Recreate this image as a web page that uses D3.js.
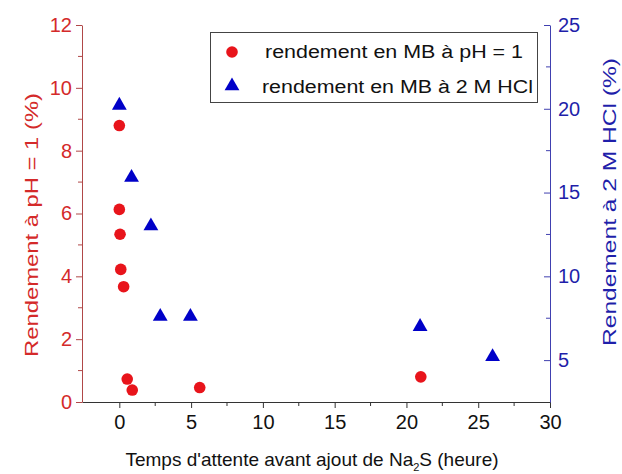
<!DOCTYPE html>
<html>
<head>
<meta charset="utf-8">
<script src="https://cdn.jsdelivr.net/npm/d3@7"></script>
<style>
  body { margin: 0; background: #fff; }
  svg text { font-family: "Liberation Sans", Arial, sans-serif; }
</style>
</head>
<body>
<svg id="chart" width="622" height="474"></svg>
<script>
// data
const phTime = [0, 0, 0.05, 0.1, 0.3, 0.55, 0.9, 5.6, 21];
const phYield = [8.8, 6.13, 5.34, 4.22, 3.67, 0.73, 0.38, 0.46, 0.8];
const hclTime = [0, 0.85, 2.2, 2.85, 4.95, 20.95, 26];
const hclYield = [20.2, 15.9, 13.0, 7.6, 7.6, 7.0, 5.2];

const xTicks = [0, 5, 10, 15, 20, 25, 30];
const leftTicks = [0, 2, 4, 6, 8, 10, 12];
const rightTicks = [5, 10, 15, 20, 25];

const legendLabels = ['rendement en MB à pH = 1', 'rendement en MB à 2 M HCl'];

/**
 * plot box
 */
const margin = {left: 82, right: 550, top: 25, bottom: 402};
const RED = '#e8141b', BLUE = '#0000c8';
const RED_TXT = '#d42a2a', BLUE_TXT = '#1f1faa';

const svg = d3.select('#chart');

const xScale = d3.scaleLinear().domain([-2.6, 30]).range([margin.left, margin.right]);
const yLeft = d3.scaleLinear().domain([0, 12]).range([margin.bottom, margin.top]);
const yRight = d3.scaleLinear().domain([2.5, 25]).range([margin.bottom, margin.top]);

// bottom axis
let xAxis = d3.axisBottom(xScale).tickValues(xTicks).tickSize(6).tickPadding(7).tickSizeOuter(0);
let gx = svg.append('g')
    .attr('transform', 'translate(0,' + margin.bottom + ')')
    .call(xAxis);
gx.selectAll('text').attr('font-size', 20).attr('fill', '#111').attr('font-family', null);
gx.selectAll('line').attr('stroke', '#333');
gx.select('.domain').attr('stroke', '#333');
// minor ticks
svg.append('g').selectAll('line')
    .data(d3.range(2.5, 30, 5))
    .enter().append('line')
    .attr('x1', d => xScale(d)).attr('x2', d => xScale(d))
    .attr('y1', margin.bottom).attr('y2', margin.bottom + 4)
    .attr('stroke', '#333');

// left axis
let yAxisL = d3.axisLeft(yLeft).tickValues(leftTicks).tickSize(6).tickPadding(4).tickSizeOuter(0);
let gl = svg.append('g')
    .attr('transform', 'translate(' + margin.left + ',0)')
    .call(yAxisL);
gl.selectAll('text').attr('font-size', 20).attr('fill', RED_TXT).attr('font-family', null);
gl.selectAll('line').attr('stroke', '#b04848');
gl.select('.domain').attr('stroke', '#b04848');
svg.append('g').selectAll('line')
    .data(d3.range(1, 12, 2))
    .enter().append('line')
    .attr('x1', margin.left - 4).attr('x2', margin.left)
    .attr('y1', d => yLeft(d)).attr('y2', d => yLeft(d))
    .attr('stroke', '#b04848');

// right axis, ticks pointing inward
let yAxisR = d3.axisRight(yRight).tickValues(rightTicks).tickSize(-6).tickPadding(10).tickSizeOuter(0);
let gr = svg.append('g')
    .attr('transform', 'translate(' + margin.right + ',0)')
    .call(yAxisR);
gr.selectAll('text').attr('font-size', 20).attr('fill', BLUE_TXT).attr('font-family', null)
    .attr('x', 8);
gr.selectAll('line').attr('stroke', '#4040b0');
gr.select('.domain').attr('stroke', '#4040b0');
svg.append('g').selectAll('line')
    .data(d3.range(7.5, 25, 5))
    .enter().append('line')
    .attr('x1', margin.right - 4).attr('x2', margin.right)
    .attr('y1', d => yRight(d)).attr('y2', d => yRight(d))
    .attr('stroke', '#4040b0');

// points
svg.append('g').selectAll('circle')
    .data(d3.range(phTime.length))
    .enter().append('circle')
    .attr('cx', i => xScale(phTime[i]))
    .attr('cy', i => yLeft(phYield[i]))
    .attr('r', 5.8)
    .attr('fill', RED);

const tri = d3.symbol().type(d3.symbolTriangle).size(95);
svg.append('g').selectAll('path')
    .data(d3.range(hclTime.length))
    .enter().append('path')
    .attr('d', tri)
    .attr('transform', i => 'translate(' + xScale(hclTime[i]) + ',' + yRight(hclYield[i]) + ')')
    .attr('fill', BLUE);

// legend
let legend = svg.append('g');
legend.append('rect')
    .attr('x', 210.5).attr('y', 32.5).attr('width', 327).attr('height', 70)
    .attr('fill', '#fff').attr('stroke', '#444');
legend.append('circle').attr('cx', 232).attr('cy', 52).attr('r', 5.8).attr('fill', RED);
legend.append('path').attr('d', tri).attr('transform', 'translate(232,86)').attr('fill', BLUE);
legend.selectAll('text')
    .data(legendLabels)
    .enter().append('text')
    .attr('x', (d, i) => i === 0 ? 265 : 262)
    .attr('y', (d, i) => 52 + i * 35)
    .attr('dy', '0.35em')
    .attr('font-size', 18)
    .attr('textLength', (d, i) => i === 0 ? 258 : 271)
    .attr('lengthAdjust', 'spacingAndGlyphs')
    .attr('fill', '#111')
    .text(d => d);

// axis titles
svg.append('text')
    .attr('transform', 'translate(38,225) rotate(-90)')
    .attr('text-anchor', 'middle')
    .attr('font-size', 19)
    .attr('textLength', 264)
    .attr('lengthAdjust', 'spacingAndGlyphs')
    .attr('fill', RED_TXT)
    .text('Rendement à pH = 1 (%)');

svg.append('text')
    .attr('transform', 'translate(616,202) rotate(-90)')
    .attr('text-anchor', 'middle')
    .attr('font-size', 19)
    .attr('textLength', 288)
    .attr('lengthAdjust', 'spacingAndGlyphs')
    .attr('fill', BLUE_TXT)
    .text('Rendement à 2 M HCl (%)');

let xt = svg.append('text')
    .attr('x', 312).attr('y', 466)
    .attr('text-anchor', 'middle')
    .attr('font-size', 19)
    .attr('fill', '#111');
xt.append('tspan').text("Temps d'attente avant ajout de Na");
xt.append('tspan').text('2').attr('font-size', 11).attr('dy', 5);
xt.append('tspan').text('S (heure)').attr('dy', -5);
</script>
</body>
</html>
